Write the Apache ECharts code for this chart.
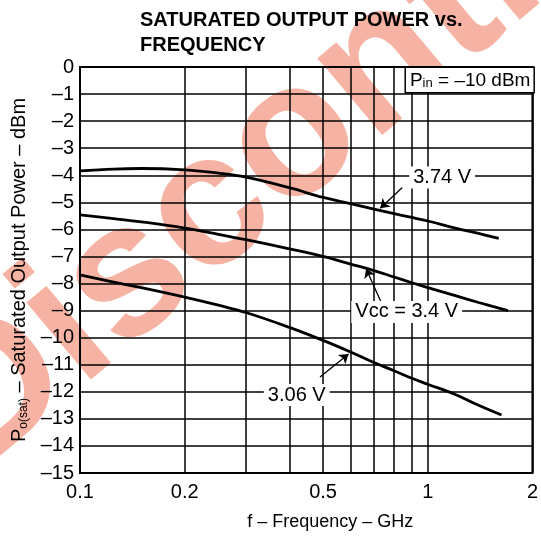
<!DOCTYPE html>
<html>
<head>
<meta charset="utf-8">
<script src="https://cdn.jsdelivr.net/npm/echarts@6/dist/echarts.min.js"></script>
<style>html,body{margin:0;padding:0;background:#fff}#c{width:541px;height:546px}</style>
</head>
<body>
<div id="c"></div>
<script>
// ---- data ----
var freqTicks = [0.1, 0.2, 0.3, 0.4, 0.5, 0.6, 0.7, 0.8, 0.9, 1, 2];
var freqLabels = [0.1, 0.2, 0.5, 1, 2];
var f374 = [0.1, 0.125, 0.15, 0.2, 0.25, 0.3, 0.4, 0.5, 0.6, 0.7, 0.8, 0.9, 1.0, 1.2, 1.4, 1.6];
var p374 = [-3.84, -3.77, -3.75, -3.80, -3.92, -4.07, -4.46, -4.82, -5.05, -5.25, -5.42, -5.56, -5.69, -5.95, -6.15, -6.33];
var f340 = [0.1, 0.125, 0.15, 0.2, 0.25, 0.3, 0.4, 0.5, 0.6, 0.7, 0.8, 0.9, 1.0, 1.2, 1.4, 1.7];
var p340 = [-5.46, -5.6, -5.72, -5.95, -6.18, -6.38, -6.72, -7.0, -7.28, -7.52, -7.76, -7.97, -8.15, -8.45, -8.7, -9.0];
var f306 = [0.1, 0.125, 0.15, 0.2, 0.25, 0.3, 0.4, 0.5, 0.6, 0.7, 0.8, 0.9, 1.0, 1.2, 1.4, 1.63];
var p306 = [-7.68, -7.95, -8.15, -8.5, -8.8, -9.07, -9.62, -10.1, -10.53, -10.92, -11.22, -11.5, -11.72, -12.1, -12.5, -12.86];
var curveLabels = [
  {name: '3.74 V', at: [1.1, -4.08]},
  {name: 'Vcc = 3.4 V', at: [0.87, -9.05]},
  {name: '3.06 V', at: [0.42, -12.12]}
];
var arrows = [
  [[0.845, -4.45], [0.73, -5.22]],
  [[0.735, -8.7], [0.665, -7.45]],
  [[0.49, -11.45], [0.592, -10.6]]
];

function pairs(xs, ys) { return xs.map(function (x, i) { return [x, ys[i]]; }); }
var FONT = '"Liberation Sans", Arial, Helvetica, sans-serif';

var chart = echarts.init(document.getElementById('c'));
var curveStyle = {color: '#000', width: 2.8};
function curve(name, xs, ys) {
  return {
    name: name, type: 'line', data: pairs(xs, ys), smooth: 0.4, showSymbol: false, symbol: 'none',
    lineStyle: curveStyle, itemStyle: {color: '#000'}, z: 5, silent: true
  };
}

chart.setOption({
  animation: false,
  backgroundColor: '#fff',
  textStyle: {fontFamily: FONT},
  title: {
    text: 'SATURATED OUTPUT POWER vs.\nFREQUENCY',
    left: 135, top: 3,
    textStyle: {fontFamily: FONT, fontSize: 20, fontWeight: 'bold', color: '#000', lineHeight: 25}
  },
  graphic: [{
    type: 'text', x: -58, y: 436, rotation: 40 * Math.PI / 180, z: -100, silent: true,
    style: {text: 'Discontinued', font: 'bold 190px ' + FONT, fill: '#f6b3a3', textAlign: 'left', textVerticalAlign: 'middle'}
  }],
  grid: {left: 80, right: 6, top: 67, bottom: 73, show: true, borderColor: '#000', borderWidth: 2, backgroundColor: 'transparent'},
  xAxis: {
    type: 'log', logBase: 10, min: 0.1, max: 2,
    name: 'f – Frequency – GHz', nameLocation: 'middle', nameGap: 40,
    nameTextStyle: {fontFamily: FONT, fontSize: 18, color: '#000', padding: [0, 0, 0, 48]},
    axisLine: {show: true, lineStyle: {color: '#000', width: 2}},
    axisTick: {show: false, customValues: freqTicks},
    splitLine: {show: true, lineStyle: {color: '#000', width: 1.5}},
    minorSplitLine: {show: false},
    axisLabel: {customValues: freqLabels, fontFamily: FONT, fontSize: 20, color: '#000', margin: 9,
      formatter: function (v) { return String(+v.toFixed(2)); }}
  },
  yAxis: {
    type: 'value', min: -15, max: 0, interval: 1,
    name: 'P{sub|o(sat)} – Saturated Output Power – dBm', nameLocation: 'middle', nameGap: 50, nameRotate: 90,
    nameTextStyle: {fontFamily: FONT, fontSize: 20, color: '#000',
      rich: {sub: {fontFamily: FONT, fontSize: 12, color: '#000', verticalAlign: 'bottom', padding: [8, 0, 0, 0]}}},
    axisLine: {show: true, lineStyle: {color: '#000', width: 2}},
    axisTick: {show: false},
    splitLine: {show: true, lineStyle: {color: '#000', width: 1.5}},
    axisLabel: {fontFamily: FONT, fontSize: 20, color: '#000', margin: 6,
      formatter: function (v) { return v === 0 ? '0' : '–' + Math.abs(v); }}
  },
  series: [
    curve('3.74 V', f374, p374),
    curve('3.4 V', f340, p340),
    curve('3.06 V', f306, p306),
    {
      type: 'lines', coordinateSystem: 'cartesian2d', silent: true, z: 6,
      symbol: ['none', 'arrow'], symbolSize: 9,
      lineStyle: {color: '#000', width: 1.3, opacity: 1},
      data: arrows.map(function (a) { return {coords: a}; })
    },
    {
      type: 'scatter', symbolSize: 0, clip: false, silent: true, z: 8,
      itemStyle: {opacity: 1},
      data: curveLabels.map(function (c) { return {value: c.at, name: c.name}; }),
      label: {
        show: true, position: 'inside', color: '#000', opacity: 1, fontFamily: FONT, fontSize: 20,
        backgroundColor: '#fff', padding: [1, 4],
        formatter: function (p) { return p.name; }
      }
    },
    {
      type: 'scatter', symbolSize: 0, clip: false, silent: true, z: 9,
      itemStyle: {opacity: 1},
      data: [{value: [2, 0], name: 'pin'}],
      label: {
        show: true, position: [1, 1], align: 'right', verticalAlign: 'top', opacity: 1,
        color: '#000', fontFamily: FONT, fontSize: 19,
        backgroundColor: '#fff', borderColor: '#000', borderWidth: 1.5, padding: [3, 3, 2, 4],
        formatter: function () { return 'P{s|in} = –10 dBm'; },
        rich: {s: {fontFamily: FONT, fontSize: 13, color: '#000', verticalAlign: 'bottom', padding: [6, 0, 0, 0]}}
      }
    }
  ]
});
</script>
</body>
</html>
